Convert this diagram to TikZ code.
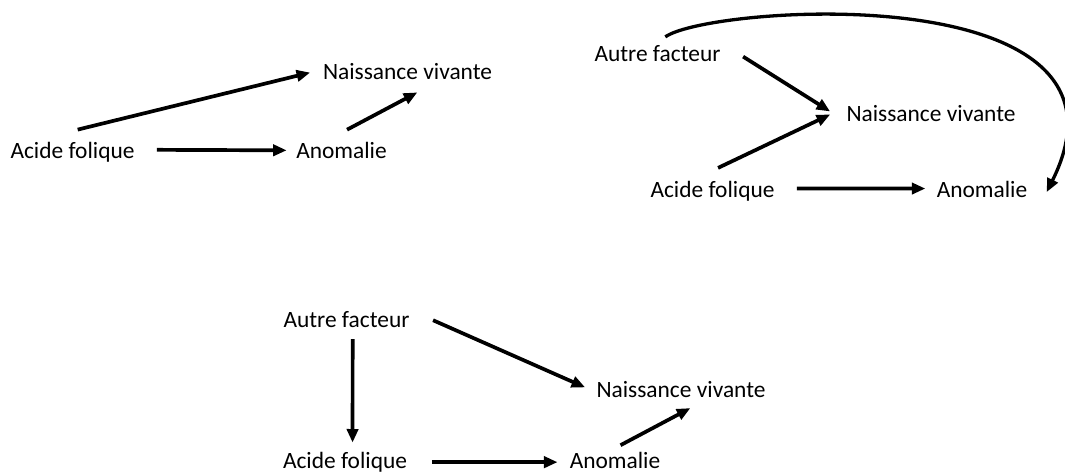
\documentclass[tikz,border=0pt]{standalone}
\usepackage{fontspec}
\setmainfont{Carlito}
\usetikzlibrary{arrows.meta}
\tikzset{
    dag node/.style={
        font=\fontsize{11.7pt}{14pt}\selectfont,
        inner sep=3pt,
        text height=8.2pt,
        text depth=2.35pt,
        anchor=base
    },
    dag arrow/.style={-{Triangle[length=6.8pt,width=5.6pt]}, line width=1.85pt, draw=black},
    dag curve/.style={dag arrow, line width=1.65pt}
}

\begin{document}
\begin{tikzpicture}[x=0.5pt, y=-0.5pt]
\useasboundingbox (0,0) rectangle (1065,476);

% Acide folique -> Anomalie -> Naissance vivante
\node[dag node] (af1) at (72.5,158) {Acide folique};
\node[dag node] (an1) at (341.5,158) {Anomalie};
\node[dag node] (nv1) at (407.5,80) {Naissance vivante};
\draw[dag arrow, shorten <=8pt, shorten >=1.6pt] (af1.2) -- (an1.178);
\draw[dag arrow, shorten <=11.7pt, shorten >=3.3pt] (af1.136) -- (nv1.178);
\draw[dag arrow, shorten <=5.9pt, shorten >=1.4pt] (an1.106) -- (nv1.-54);

% Autre facteur sur Naissance vivante et Anomalie
\node[dag node] (auf2) at (657.5,62) {Autre facteur};
\node[dag node] (nv2) at (931,122) {Naissance vivante};
\node[dag node] (af2) at (712.5,198) {Acide folique};
\node[dag node] (an2) at (982,198) {Anomalie};
\draw[dag arrow, shorten <=9.6pt, shorten >=5.9pt] (auf2.8) -- (nv2.181);
\draw[dag arrow, shorten <=8.5pt, shorten >=5.5pt] (af2.120) -- (nv2.176);
\draw[dag arrow, shorten <=8pt, shorten >=2.5pt] (af2.3) -- (an2.176);
\draw[dag curve, shorten <=2pt] (auf2.75) .. controls (710,5) and (1155,-25) .. ([xshift=6.5pt]an2.east);

% Autre facteur en amont de Acide folique
\node[dag node] (auf3) at (346.5,327) {Autre facteur};
\node[dag node] (nv3) at (681,397) {Naissance vivante};
\node[dag node] (af3) at (345,468) {Acide folique};
\node[dag node] (an3) at (615,468) {Anomalie};
\draw[dag arrow, shorten <=9.4pt, shorten >=2.7pt] (auf3.7) -- (nv3.179);
\draw[dag arrow, shorten <=0.5pt, shorten >=1.3pt] (auf3.-70) -- (af3.66);
\draw[dag arrow, shorten <=9.2pt, shorten >=2.9pt] (af3.east) -- (an3.west);
\draw[dag arrow] (an3.72) -- (nv3.-61);
\end{tikzpicture}
\end{document}
